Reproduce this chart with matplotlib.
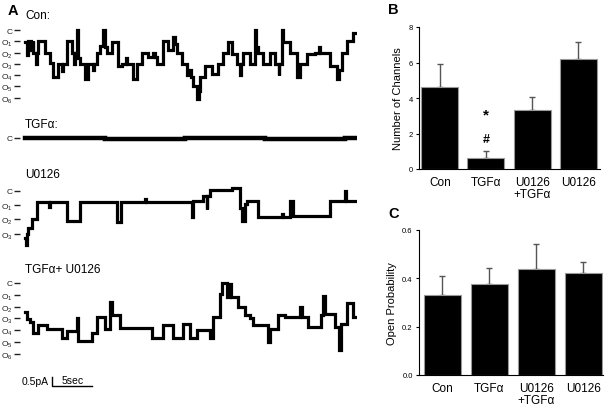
import matplotlib
matplotlib.use('Agg')
import matplotlib.pyplot as plt
import numpy as np

plt.rcParams['font.family'] = ['Liberation Sans', 'DejaVu Sans']
plt.rcParams['mathtext.fontset'] = 'custom'
plt.rcParams['mathtext.rm'] = 'Liberation Sans'

# ---- Panel A traces: dwell start times (s) and current level (0 = C, n = O_n)
T_END = 41.25
con_t = [0, 0.2, 0.4, 0.8, 0.95, 1.04, 1.4, 1.5, 1.67, 2.5, 3.13, 3.54, 4.17, 4.6, 4.7, 5.21, 5.83, 6.1, 6.3,
         6.46, 6.6, 6.88, 7.5, 7.92, 8.5, 8.6, 8.96, 9.38, 9.79, 10.0, 10.21, 10.83, 11.67, 12.08, 12.6, 12.7,
         13.54, 13.96, 14.58, 15.42, 16.0, 16.2, 16.46, 17.29, 17.92, 18.54, 18.7, 18.96, 19.58, 20.21, 20.6,
         20.8, 21.04, 21.46, 21.7, 21.88, 22.5, 23.33, 24.17, 24.79, 25.42, 25.83, 26.46, 26.9, 27.0, 27.29,
         28.13, 28.75, 28.9, 29.17, 29.79, 30.63, 31.25, 31.7, 31.8, 32.08, 32.25, 33.13, 33.96, 34.38,
         35.21, 36.25, 36.8, 36.9, 38.13, 38.96, 39.3, 39.58, 40.21, 41.0]
con_lvl = [1.1, 2.2, 1.0, 1.8, 1.0, 2.0, 3.0, 2.0, 1.0, 2.0, 2.9, 4.2, 3.0, 3.6, 3.0, 1.0, 2.0, 3.0, 2.0,
           0.0, 2.5, 3.0, 4.3, 3.0, 3.5, 3.0, 2.0, 1.4, 0.0, 1.5, 2.0, 1.1, 3.2, 3.0, 2.5, 3.0,
           4.3, 3.0, 2.0, 2.4, 2.0, 2.4, 3.0, 1.0, 1.8, 0.6, 1.2, 2.0, 3.0, 4.0, 3.5,
           4.2, 5.0, 6.1, 5.4, 4.2, 3.2, 3.9, 3.0, 2.0, 1.1, 2.1, 3.0, 4.0, 3.0, 2.0,
           3.0, 0.0, 1.5, 2.0, 3.0, 2.0, 3.0, 4.0, 3.0, 0.0, 1.1, 2.0, 4.2, 3.0,
           2.1, 2.0, 1.5, 2.0, 3.2, 4.3, 3.5, 2.0, 1.0, 0.3]

tgf_t = [0, 10.0, 20.0, 30.0, 40.0]
tgf_lvl = [0.0, 0.05, 0.0, 0.05, 0.0]

u_t = [0, 0.1, 0.2, 0.42, 0.83, 1.46, 3.0, 3.1, 5.21, 6.88, 11.46, 11.96, 15.0, 15.1, 20.83, 21.04, 22.29,
       22.7, 22.8, 23.13, 25.83, 26.88, 27.1, 27.5, 27.7, 29.17, 32.1, 32.2, 33.13, 33.54, 38.13, 40.0, 40.1]
u_lvl = [3.3, 3.8, 3.0, 2.6, 2.0, 0.8, 1.1, 0.8, 2.1, 0.8, 2.2, 0.8, 0.6, 0.8, 1.85, 0.7, 0.35,
         1.3, 0.35, -0.05, -0.2, 1.2, 2.1, 0.9, 0.7, 1.85, 1.6, 1.85, 0.7, 1.75, 0.7, 0.0, 0.7]

tu_t = [0, 0.2, 0.63, 1.04, 1.67, 2.71, 4.58, 5.21, 6.46, 6.6, 8.33, 8.96, 10.0, 10.63, 10.9, 11.88, 15.83,
        17.29, 18.54, 19.79, 20.63, 21.46, 23.13, 23.54, 24.38, 24.6, 25.21, 25.6, 25.8, 26.67, 27.5, 28.1,
        28.54, 30.42, 30.6, 31.67, 32.5, 34.38, 34.6, 35.42, 37.0, 37.3, 37.5, 38.75, 39.3, 39.45, 40.21, 41.0]
tu_lvl = [2.5, 3.05, 3.3, 4.2, 3.6, 3.9, 4.7, 4.1, 3.0, 4.9, 4.2, 2.85, 3.9, 1.6, 2.75, 3.8, 4.7,
          3.55, 4.7, 3.5, 4.7, 4.0, 4.7, 2.9, 0.9, 0.0, 1.2, 0.1, 1.15, 2.05, 2.75, 3.0,
          3.6, 5.0, 3.9, 2.75, 2.9, 2.0, 2.9, 3.75, 2.75, 1.1, 2.6, 3.75, 5.7, 3.45, 1.7, 2.9]

# ---- Panels B and C
groups = ['Con', 'TGF\u03b1', 'U0126\n+TGF\u03b1', 'U0126']
n_channels = [4.6, 0.6, 3.3, 6.22]
n_channels_err = [1.33, 0.4, 0.73, 0.93]
open_prob = [0.333, 0.375, 0.437, 0.423]
open_prob_err = [0.078, 0.066, 0.105, 0.043]

W, H = 608, 406
fig = plt.figure(figsize=(W / 100, H / 100), dpi=100)


def px_axes(left, top, right, bottom):
    return fig.add_axes([left / W, 1 - bottom / H, (right - left) / W, (bottom - top) / H])


def trace_axes(top, bottom, ylim, nlev, t, lvl, label, label_y, lw=2.3):
    ax = px_axes(20, top, 357, bottom)
    ax.plot(list(t) + [T_END], list(lvl) + [lvl[-1]], drawstyle='steps-post', color='black', lw=lw,
            solid_joinstyle='miter')
    ax.set_xlim(-0.625, 41.5)
    ax.set_ylim(*ylim)
    for s in ax.spines.values():
        s.set_visible(False)
    ax.set_xticks([])
    ticks = list(range(nlev + 1))
    ax.set_yticks(ticks)
    ax.set_yticklabels(['C'] + [r'O$_\mathregular{%d}$' % i for i in ticks[1:]])
    ax.tick_params(axis='y', length=4.3, width=1.0, pad=1.2, labelsize=6.0, colors='#222222')
    fig.text(25 / W, 1 - label_y / H, label, fontsize=8.5, va='center', ha='left')
    return ax


trace_axes(22.0, 104.4, (6.5, -0.8), 6, con_t, con_lvl, 'Con:', 16)
trace_axes(128, 150, (1.0, -1.0), 0, tgf_t, tgf_lvl, 'TGF\u03b1:', 125, lw=3.2)
trace_axes(183, 249.3, (4.0, -0.6), 3, u_t, u_lvl, 'U0126', 175)
ax4 = trace_axes(276.9, 360.7, (6.5, -0.6), 6, tu_t, tu_lvl, 'TGF\u03b1+ U0126', 270)

# scale bar
ax4.plot([3.4, 3.4, 8.4], [7.94, 8.7, 8.7], color='black', lw=1.0, clip_on=False)
fig.text(22 / W, 1 - 382 / H, '0.5pA', fontsize=7.5, va='center', ha='left')
fig.text(73 / W, 1 - 381 / H, '5sec', fontsize=7.5, va='center', ha='center')

# panel letters
fig.text(8 / W, 1 - 11 / H, 'A', fontsize=10.5, weight='bold', va='center')
fig.text(388 / W, 1 - 10 / H, 'B', fontsize=10.5, weight='bold', va='center')
fig.text(388 / W, 1 - 214 / H, 'C', fontsize=10.5, weight='bold', va='center')


def bar_panel(ax, vals, errs, ylim, yticks, ylabel, yfmt, xlim):
    x = np.arange(len(vals))
    ax.bar(x, vals, width=0.8, color='black', edgecolor='#999999', lw=0.8, zorder=2)
    ax.errorbar(x, vals, yerr=[np.zeros(len(errs)), errs], fmt='none', ecolor='#555555',
                elinewidth=1.0, capsize=2.5, capthick=1.0, zorder=1)
    ax.set_xlim(*xlim)
    ax.set_ylim(*ylim)
    ax.set_yticks(yticks)
    ax.set_yticklabels([yfmt % v for v in yticks])
    ax.set_xticks(x)
    ax.set_xticklabels(groups, fontsize=8.5, linespacing=1.0)
    ax.tick_params(axis='x', length=0, pad=5)
    ax.tick_params(axis='y', labelsize=5.5, length=2.5, width=0.8, pad=2)
    ax.set_ylabel(ylabel, fontsize=8, labelpad=4)
    ax.spines['top'].set_visible(False)
    ax.spines['right'].set_visible(False)
    for s in ('left', 'bottom'):
        ax.spines[s].set_linewidth(0.8)
    return x


axB = px_axes(419, 28, 600, 170)
xb = bar_panel(axB, n_channels, n_channels_err, (0, 8), [0, 2, 4, 6, 8], 'Number of Channels', '%d',
               (-0.45, 3.47))
axB.text(xb[1], 3.1, '*', fontsize=11, weight='bold', ha='center', va='center')
axB.text(xb[1], 1.7, '#', fontsize=9, weight='bold', ha='center', va='center')

axC = px_axes(419, 231, 603, 376)
bar_panel(axC, open_prob, open_prob_err, (0, 0.6), [0.0, 0.2, 0.4, 0.6], 'Open Probability', '%.1f',
          (-0.5, 3.42))

plt.savefig('out.png', dpi=100)
